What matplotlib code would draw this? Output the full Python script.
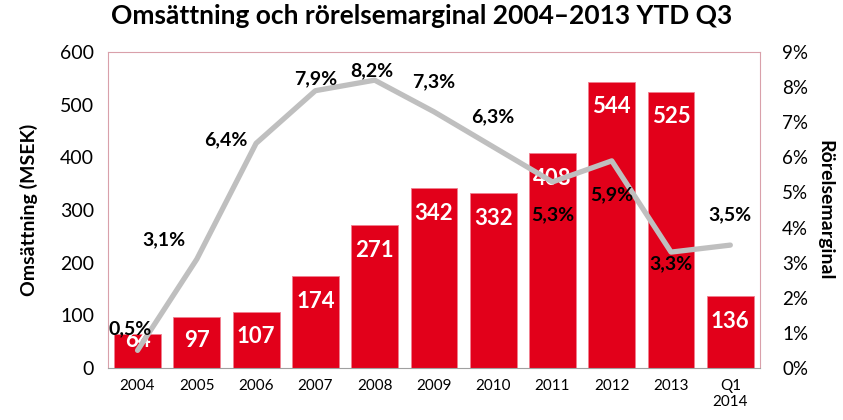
import matplotlib.pyplot as plt
import numpy as np
from matplotlib.ticker import FuncFormatter

plt.rcParams['font.family'] = ['Lato', 'DejaVu Sans']

categories = ['2004', '2005', '2006', '2007', '2008', '2009', '2010',
              '2011', '2012', '2013', 'Q1\n2014']
omsattning = [64, 97, 107, 174, 271, 342, 332, 408, 544, 525, 136]
marginal = [0.5, 3.1, 6.4, 7.9, 8.2, 7.3, 6.3, 5.3, 5.9, 3.3, 3.5]

# label offsets for the margin labels (pixels)
margin_offsets = [(-7, 22), (-33, 19), (-30, 4), (0, 12), (-3, 9), (0, 30),
                  (0, 30), (0, -33), (0, -34), (0, -12), (0, 30)]

red = '#E2001A'
grey = '#BFBFBF'

fig = plt.figure(figsize=(8.43, 4.2), dpi=100)
ax = fig.add_axes([0.128, 0.124, 0.7735, 0.752])
x = np.arange(len(categories))

ax.bar(x, omsattning, width=0.79, color=red, edgecolor='#F08090',
       linewidth=0.6, zorder=2)
ax.set_xlim(-0.5, len(categories) - 0.5)
ax.set_ylim(0, 600)
ax.set_yticks(range(0, 601, 100))
ax.set_xticks(x)
ax.set_xticklabels(categories, fontsize=11)
ax.tick_params(axis='y', labelsize=14, length=0, pad=10)
ax.tick_params(axis='x', length=0, pad=8)
for s in ['top', 'left', 'right']:
    ax.spines[s].set_color('#D9A0AA')
ax.spines['bottom'].set_color('#A0A0A0')

for xi, v in zip(x, omsattning):
    ax.text(xi, max(v - 48, 52), str(v), ha='center', va='center',
            color='white', fontsize=16, fontweight='bold', zorder=4)

ax.set_ylabel('Omsättning (MSEK)', fontsize=14, fontweight='bold')
ax.yaxis.set_label_coords(-0.107, 0.5)

ax2 = ax.twinx()
ax2.plot(x, marginal, color=grey, linewidth=3.8, zorder=3,
         solid_capstyle='round')
ax2.set_ylim(0, 9)
ax2.set_yticks(range(0, 10))
ax2.yaxis.set_major_formatter(FuncFormatter(lambda v, p: f'{int(v)}%'))
ax2.tick_params(axis='y', labelsize=13.5, length=0, pad=16)
for s in ax2.spines.values():
    s.set_visible(False)
ax2.set_ylabel('Rörelsemarginal', fontsize=14, fontweight='bold',
               rotation=-90, va='center')
ax2.yaxis.set_label_coords(1.1, 0.5)

for xi, m, off in zip(x, marginal, margin_offsets):
    ax2.annotate(f'{m:.1f}%'.replace('.', ','), (xi, m), xytext=off,
                 textcoords='offset pixels', ha='center', va='center',
                 fontsize=14, fontweight='bold', color='black', zorder=5)

fig.suptitle('Omsättning och rörelsemarginal 2004–2013 YTD Q3',
             fontsize=19, fontweight='bold', y=0.99)

fig.savefig('out.png', dpi=100)
